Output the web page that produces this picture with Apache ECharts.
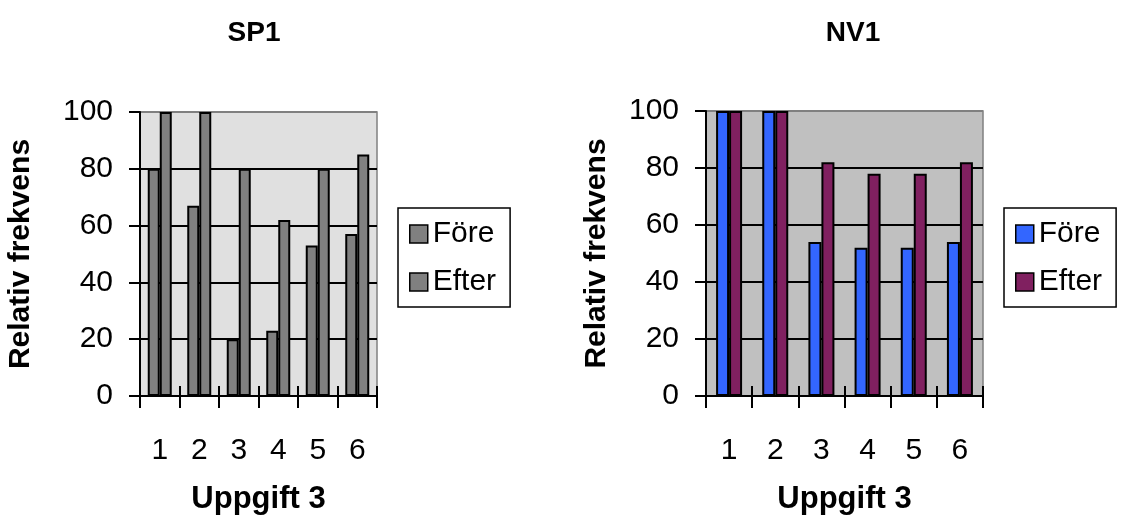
<!DOCTYPE html>
<html>
<head>
<meta charset="utf-8">
<script src="https://cdn.jsdelivr.net/npm/echarts@6/dist/echarts.min.js"></script>
<style>
  html, body { margin: 0; padding: 0; background: #fff; }
  #chart { width: 1121px; height: 517px; }
</style>
</head>
<body>
<div id="chart"></div>
<script>
// data
const categories = ['1', '2', '3', '4', '5', '6'];
const sp1Fore = [80, 67, 20, 23, 53, 57];
const sp1Efter = [100, 100, 80, 62, 80, 85];
const nv1Fore = [100, 100, 54, 52, 52, 54];
const nv1Efter = [100, 100, 82, 78, 78, 82];
const seriesNames = ['Före', 'Efter'];
const titles = ['SP1', 'NV1'];
const yName = 'Relativ frekvens';
const xName = 'Uppgift 3';

const FONT = 'Liberation Sans, Arial, sans-serif';

// main x axis (line + outside ticks + labels)
function mainX(gridIndex) {
  return {
    type: 'category',
    gridIndex: gridIndex,
    data: categories,
    name: xName,
    nameLocation: 'middle',
    nameGap: 88,
    nameTextStyle: { fontFamily: FONT, fontSize: 31, fontWeight: 'bold', color: '#000' },
    axisLine: { show: true, lineStyle: { color: '#000', width: 2 } },
    axisTick: { show: true, length: 12, lineStyle: { color: '#000', width: 2 } },
    axisLabel: { margin: 40, fontFamily: FONT, fontSize: 30, color: '#000' },
    splitLine: { show: false }
  };
}
// second x axis only for the inside part of the crossing ticks
function tickX(gridIndex) {
  return {
    type: 'category',
    gridIndex: gridIndex,
    data: categories,
    position: 'bottom',
    axisLine: { show: false },
    axisTick: { show: true, inside: true, length: 10, lineStyle: { color: '#000', width: 2 } },
    axisLabel: { show: false },
    splitLine: { show: false }
  };
}
function yAx(gridIndex, gap) {
  return {
    type: 'value',
    gridIndex: gridIndex,
    min: 0,
    max: 100,
    interval: 20,
    name: yName,
    nameLocation: 'middle',
    nameGap: gap,
    nameTextStyle: { fontFamily: FONT, fontSize: 30, fontWeight: 'bold', color: '#000' },
    axisLine: { show: true, lineStyle: { color: '#000', width: 2 } },
    axisTick: { show: true, length: 11, lineStyle: { color: '#000', width: 2 } },
    axisLabel: { margin: 27, fontFamily: FONT, fontSize: 30, color: '#000' },
    splitLine: {
      show: true,
      lineStyle: { color: ['#000', '#000', '#000', '#000', '#000', '#808080'], width: 2 }
    }
  };
}
function bar(name, data, color, xi, yi, w) {
  return {
    name: name,
    type: 'bar',
    xAxisIndex: xi,
    yAxisIndex: yi,
    data: data,
    barWidth: w,
    barGap: '0%',
    itemStyle: { color: color, borderColor: '#000', borderWidth: 2 },
    emphasis: { disabled: true }
  };
}
function legendOf(left, colors) {
  return {
    left: left,
    top: 208,
    orient: 'vertical',
    padding: [11, 14, 10, 11],
    itemGap: 18,
    itemWidth: 18,
    itemHeight: 18,
    borderColor: '#000',
    borderWidth: 1.5,
    icon: 'rect',
    selectedMode: false,
    textStyle: { fontFamily: FONT, fontSize: 30, color: '#000' },
    data: seriesNames.map((n, i) => ({ name: n, itemStyle: { color: colors[i], borderColor: '#000', borderWidth: 1.5 } }))
  };
}

const chart = echarts.init(document.getElementById('chart'));
chart.setOption({
  animation: false,
  title: [
    { text: titles[0], left: 249, top: 14, textAlign: 'center',
      textStyle: { fontFamily: FONT, fontSize: 28, fontWeight: 'bold', color: '#000' } },
    { text: titles[1], left: 848, top: 14, textAlign: 'center',
      textStyle: { fontFamily: FONT, fontSize: 28, fontWeight: 'bold', color: '#000' } }
  ],
  legend: [
    legendOf(398, ['#808080', '#808080']),
    legendOf(1004, ['#3366ff', '#802060'])
  ],
  grid: [
    { left: 140, top: 112, width: 237, height: 284, show: true, outerBoundsMode: 'none',
      backgroundColor: '#e0e0e0', borderColor: '#808080', borderWidth: 1.5 },
    { left: 706, top: 111, width: 277, height: 285, show: true, outerBoundsMode: 'none',
      backgroundColor: '#c0c0c0', borderColor: '#808080', borderWidth: 1.5 }
  ],
  xAxis: [mainX(0), tickX(0), mainX(1), tickX(1)],
  yAxis: [yAx(0, 104), yAx(1, 94)],
  series: [
    bar(seriesNames[0], sp1Fore, '#808080', 0, 0, 12),
    bar(seriesNames[1], sp1Efter, '#808080', 0, 0, 12),
    bar(seriesNames[0], nv1Fore, '#3366ff', 2, 1, 13),
    bar(seriesNames[1], nv1Efter, '#802060', 2, 1, 13)
  ]
});
</script>
</body>
</html>
